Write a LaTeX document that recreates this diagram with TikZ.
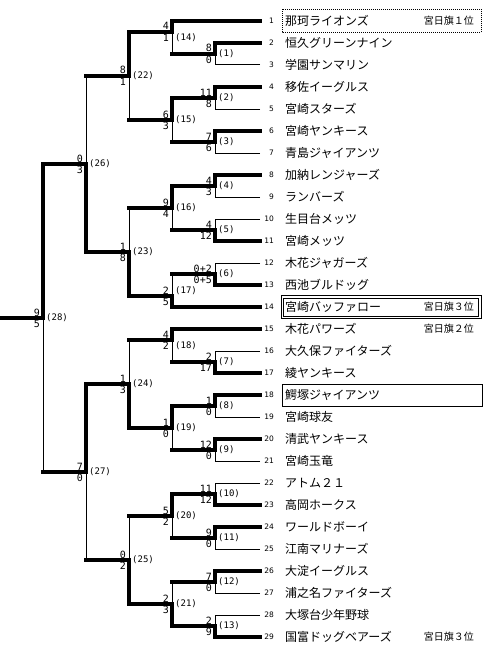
\documentclass[tikz,border=0pt]{standalone}
\usepackage{fontspec}
\newfontfamily\jpfont{Noto Sans CJK JP}
\newfontfamily\monofont{DejaVu Sans Mono}
\newfontfamily\numfont{DejaVu Sans}
\usetikzlibrary{calc}

\tikzset{
	win/.style={line width=3.6pt, line cap=rect, line join=miter},
	lose/.style={line width=1pt},
	team/.style={anchor=west, inner sep=0pt, font=\jpfont\fontsize{12}{12}\selectfont},
	note/.style={anchor=east, inner sep=0pt, font=\jpfont\fontsize{10}{10}\selectfont},
	teamno/.style={anchor=east, inner sep=0pt, font=\numfont\fontsize{7.5}{7.5}\selectfont},
	score/.style={anchor=base east, inner sep=0pt, font=\monofont\fontsize{10}{10}\selectfont},
	gameno/.style={anchor=west, inner sep=0pt, font=\monofont\fontsize{9}{9}\selectfont},
}

\begin{document}
\begin{tikzpicture}[x=1pt, y=-1pt]
	\useasboundingbox (0,0) rectangle (500,661);
	% teams
	\foreach \i/\name in {1/那珂ライオンズ, 2/恒久グリーンナイン, 3/学園サンマリン,
		4/移佐イーグルス, 5/宮崎スターズ, 6/宮崎ヤンキース, 7/青島ジャイアンツ,
		8/加納レンジャーズ, 9/ランバーズ, 10/生目台メッツ, 11/宮崎メッツ,
		12/木花ジャガーズ, 13/西池ブルドッグ, 14/宮崎バッファロー, 15/木花パワーズ,
		16/大久保ファイターズ, 17/綾ヤンキース, 18/鰐塚ジャイアンツ, 19/宮崎球友,
		20/清武ヤンキース, 21/宮崎玉竜, 22/アトム２１, 23/高岡ホークス,
		24/ワールドボーイ, 25/江南マリナーズ, 26/大淀イーグルス,
		27/浦之名ファイターズ, 28/大塚台少年野球, 29/国富ドッグベアーズ} {
		\pgfmathsetmacro\ty{21+22*(\i-1)}
		\coordinate (t\i) at (260,\ty);
		\node[teamno] (n\i) at (274,\ty) {\i};
		\node[team] (m\i) at (285,\ty) {\name};
	}
	\node[note] (r1) at (474,21) {宮日旗１位};
	\node[note] (r14) at (474,307) {宮日旗３位};
	\node[note] (r15) at (474,329) {宮日旗２位};
	\node[note] (r29) at (474,637) {宮日旗３位};
	\draw[dash pattern=on 1pt off 1pt, line width=0.8pt] (282,9.5) rectangle (481,32.5);
	\draw[line width=0.8pt] (281,295.5) rectangle (481,318.5);
	\draw[line width=0.8pt] (283.5,298) rectangle (478.5,316);
	\draw[line width=0.8pt] (282,384) rectangle (482,406);
	% games
	\foreach \g/\x/\y in {1/215/54, 2/215/98, 3/215/142, 4/215/186, 5/215/230,
		6/215/274, 7/215/362, 8/215/406, 9/215/450, 10/215/494, 11/215/538,
		12/215/582, 13/215/626, 14/172/32, 15/172/120, 16/172/208, 17/172/296,
		18/172/340, 19/172/428, 20/172/516, 21/172/604, 22/129/76, 23/129/252,
		24/129/384, 25/129/560, 26/86/164, 27/86/472, 28/43/318}
		\coordinate (g\g) at (\x,\y);
	\coordinate (root) at (0,318);
	% game / winner / loser / loser line / top score / bottom score / label y
	\foreach \g/\wn/\ls/\lh/\sa/\sb/\ly in {
		1/t2/t3/lose/8/0/54, 2/t4/t5/lose/11/8/98, 3/t6/t7/lose/7/6/142,
		4/t8/t9/lose/4/3/186, 5/t11/t10/lose/4/12/230, 6/t13/t12/lose/0+2/0+5/274,
		7/t17/t16/lose/2/17/362, 8/t18/t19/lose/1/0/406, 9/t20/t21/lose/12/0/450,
		10/t23/t22/lose/11/12/494, 11/t24/t25/lose/9/0/538, 12/t26/t27/lose/7/0/582,
		13/t29/t28/lose/2/9/626,
		14/t1/g1/win/4/1/37.5, 15/g2/g3/win/6/3/120, 16/g4/g5/win/9/4/208,
		17/t14/g6/win/2/5/290.5, 18/t15/g7/win/4/2/345.5, 19/g8/g9/win/1/0/428,
		20/g10/g11/win/5/2/516, 21/g13/g12/win/2/3/604,
		22/g14/g15/win/8/1/76, 23/g17/g16/win/1/8/252, 24/g19/g18/win/1/3/384,
		25/g21/g20/win/0/2/560, 26/g23/g22/win/0/3/164, 27/g24/g25/win/7/0/472,
		28/g26/g27/win/9/5/318} {
		\draw[\lh] (\ls) -- (g\g |- \ls);
		\draw[lose] (g\g |- \ls) -- (g\g);
		\draw[win] (\wn) -| (g\g);
		\node[score] (sa\g) at ([xshift=-3pt, yshift=2pt]g\g) {\sa};
		\node[score] (sb\g) at ([xshift=-3pt, yshift=-9.6pt]g\g) {\sb};
		\node[gameno, xshift=3pt] (l\g) at (g\g |- 0,\ly) {(\g)};
	}
	\draw[win] (g28) -- (root);
\end{tikzpicture}
\end{document}
